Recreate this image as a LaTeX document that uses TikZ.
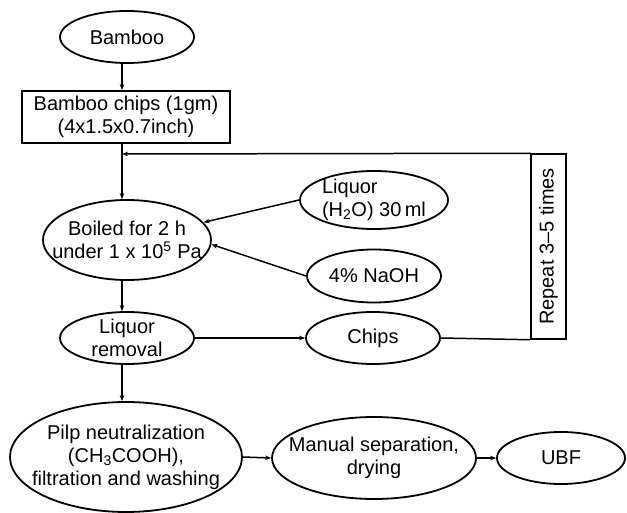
\documentclass[tikz,border=0pt]{standalone}
\usepackage{fontspec}
\setmainfont{Liberation Sans}
\usetikzlibrary{shapes.geometric,arrows.meta}
\begin{document}
\begin{tikzpicture}[x=1pt,y=-1pt,
  every node/.style={font=\fontsize{20}{23}\selectfont, inner sep=0pt},
  txt/.style={align=center, inner sep=0pt},
  ell/.style={draw, ellipse, line width=1.8pt},
  boxr/.style={draw, rectangle, line width=1.8pt, align=center},
  conn/.style={line width=1.5pt},
  arr/.style={conn, -{Stealth[length=6pt,width=4.5pt]}}]
\useasboundingbox (0,0) rectangle (627,513);
\coordinate (sp) at (122,154);
\node[ell, minimum width=134pt, minimum height=52pt, label={[txt]center:Bamboo}] (bamboo) at (127,37) {};
\node[boxr, minimum width=208pt, minimum height=52pt] (chips0) at (126,117) {Bamboo chips (1gm)\\(4x1.5x0.7inch)};
\node[ell, minimum width=168pt, minimum height=80pt, label={[txt]center:Boiled for 2 h\\under 1 x 10\textsuperscript{5} Pa}] (boiled) at (127,240) {};
\node[ell, minimum width=148pt, minimum height=58pt, label={[txt, align=left]center:Liquor\\(H\textsubscript{2}O) 30\,ml}] (liquor) at (374,200) {};
\node[ell, minimum width=134pt, minimum height=53pt, label={[txt]center:4\% NaOH}] (naoh) at (374,276) {};
\node[ell, minimum width=134pt, minimum height=52pt, label={[txt]center:Liquor\\removal}] (lrem) at (127,338) {};
\node[ell, minimum width=134pt, minimum height=52pt, label={[txt]center:Chips}] (chips) at (373,338) {};
\node[ell, minimum width=232pt, minimum height=110pt, label={[txt]center:Pilp neutralization\\(CH\textsubscript{3}COOH),\\filtration and washing}] (pilp) at (126,457) {};
\node[ell, minimum width=204pt, minimum height=82pt, label={[txt]center:Manual separation,\\drying}] (manual) at (374,458) {};
\node[ell, minimum width=128pt, minimum height=52pt, label={[txt]center:UBF}] (ubf) at (561,458) {};
\node[draw, rectangle, line width=1.5pt, rotate=90, minimum width=185pt, minimum height=35pt] (rep) at (548.5,246.5) {Repeat 3--5 times};
% connectors
\draw[arr] (bamboo.south -| sp) -- (chips0.north -| sp);
\draw[arr] (chips0.south -| sp) -- (boiled.north -| sp);
\draw[arr] (rep.north east) -- (sp);
\draw[arr] (liquor.west) -- (boiled.13);
\draw[arr] (naoh.west) -- (boiled.-3);
\draw[arr] (boiled.south -| sp) -- (lrem.north -| sp);
\draw[arr] (lrem.east) -- (chips.west);
\draw[conn] (chips.east) -- (rep.north west);
\draw[arr] (lrem.south -| sp) -- (pilp.north -| sp);
\draw[arr] (pilp.east) -- (manual.west);
\draw[arr] (manual.east) -- (ubf.west);
\end{tikzpicture}
\end{document}
